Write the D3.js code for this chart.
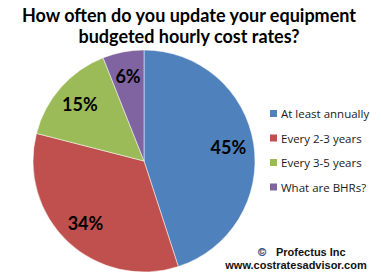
<!DOCTYPE html>
<html>
<head>
<meta charset="utf-8">
<script src="https://cdn.jsdelivr.net/npm/d3@7"></script>
<style>
  body { margin: 0; background: #fff; }
  svg { display: block; }
</style>
</head>
<body>
<div id="chart"></div>
<script>
// survey answers, clockwise from 12 o'clock
const categories = ["At least annually", "Every 2-3 years", "Every 3-5 years", "What are BHRs?"];
const shares = [45, 34, 15, 6];
const colors = ["#4F81BD", "#C0504D", "#9BBB59", "#8064A2"];
const titleLines = ["How often do you update your equipment", "budgeted hourly cost rates?"];

const width = 381, height = 279;
const cx = 144, cy = 161, radius = 111;

const svg = d3.select("#chart").append("svg")
    .attr("width", width)
    .attr("height", height);

// title
svg.append("g").selectAll("text")
    .data(titleLines)
    .enter().append("text")
    .attr("x", 189)
    .attr("y", (d, i) => 22 + i * 21)
    .attr("text-anchor", "middle")
    .style("font-family", "Lato, 'Open Sans', sans-serif")
    .style("font-weight", "bold")
    .style("font-size", "18px")
    .style("fill", "#000")
    .text(d => d);

const pie = d3.pie().sort(null).value(d => d);
const arcs = pie(shares);
const arc = d3.arc().innerRadius(0).outerRadius(radius);
const labelArc = d3.arc().innerRadius(radius * 0.77).outerRadius(radius * 0.77);

const g = svg.append("g").attr("transform", `translate(${cx},${cy})`);

g.selectAll("path")
    .data(arcs)
    .enter().append("path")
    .attr("d", arc)
    .style("fill", (d, i) => colors[i])
    .style("stroke", "#fff")
    .style("stroke-width", "0.5px");

g.selectAll("text")
    .data(arcs)
    .enter().append("text")
    .attr("transform", d => `translate(${labelArc.centroid(d)})`)
    .attr("dy", "0.35em")
    .attr("text-anchor", "middle")
    .style("font-family", "Lato, 'Open Sans', sans-serif")
    .style("font-weight", "bold")
    .style("font-size", "18px")
    .style("fill", "#000")
    .text(d => d.data + "%");

// legend
const legend = svg.append("g").selectAll("g")
    .data(categories)
    .enter().append("g")
    .attr("transform", (d, i) => `translate(270,${114 + i * 24.5})`);

legend.append("rect")
    .attr("x", 0).attr("y", -4)
    .attr("width", 7).attr("height", 7)
    .style("fill", (d, i) => colors[i]);

legend.append("text")
    .attr("x", 11)
    .attr("dy", "0.35em")
    .style("font-family", "'Open Sans', sans-serif")
    .style("font-size", "11.5px")
    .style("fill", "#1a1a1a")
    .text(d => d);

// footer
const foot = svg.append("g")
    .style("font-family", "'Liberation Sans', Arial, sans-serif")
    .style("font-weight", "bold")
    .style("font-size", "11px");

foot.append("text")
    .attr("x", 258).attr("y", 256)
    .style("fill", "#E8891F")
    .style("stroke", "#2255aa")
    .style("stroke-width", "0.4px")
    .text("©");

foot.append("text")
    .attr("x", 276).attr("y", 256)
    .style("fill", "#111")
    .text("Profectus Inc");

foot.append("text")
    .attr("x", 296).attr("y", 269)
    .attr("text-anchor", "middle")
    .style("fill", "#111")
    .text("www.costratesadvisor.com");
</script>
</body>
</html>
